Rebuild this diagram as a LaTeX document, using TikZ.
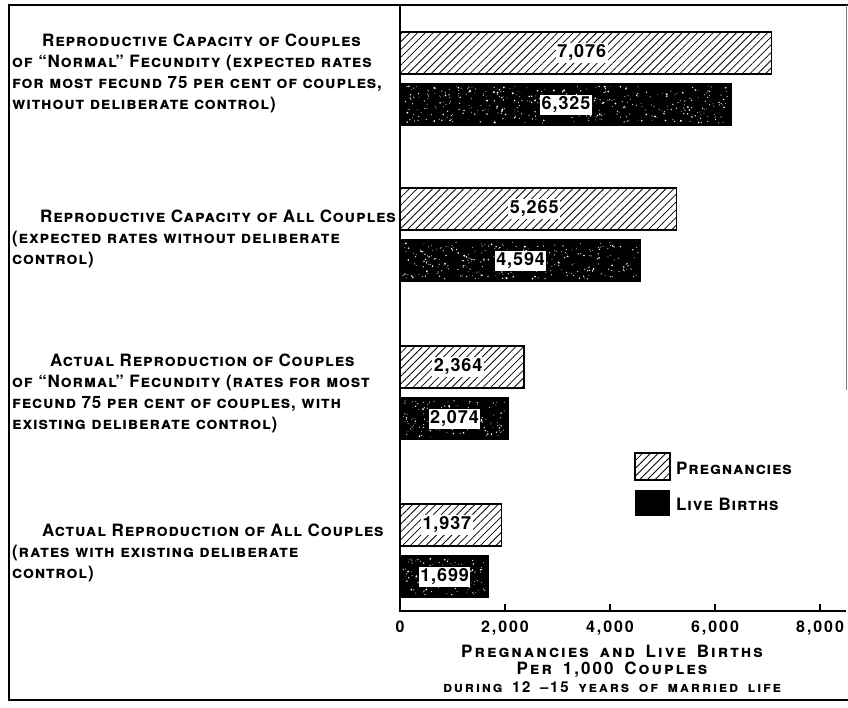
\documentclass[tikz,border=0pt]{standalone}
\usepackage{fontspec}
\setmainfont{TeX Gyre Heros}
\newfontfamily\lettering[LetterSpace=5, Ligatures=TeX]{TeX Gyre Heros}
\newfontfamily\widelettering[LetterSpace=12, Ligatures=TeX, WordSpace=1.6]{TeX Gyre Heros}
\usetikzlibrary{patterns.meta}

\tikzset{
  preg/.style={draw=black, line width=1.3pt, pattern={Lines[angle=45, distance=5.5pt, line width=0.8pt]}},
  live/.style={fill=black},
  rowlbl/.style={anchor=north west, align=left, inner sep=0pt, font=\lettering\bfseries\scshape\fontsize{17}{21}\selectfont},
  val/.style={inner sep=1.5pt, font=\lettering\bfseries\fontsize{18}{18}\selectfont},
  valbox/.style={val, fill=white},
  leg/.style={inner sep=0pt, font=\lettering\bfseries\scshape\fontsize{17}{17}\selectfont},
  axtitle/.style={inner sep=0pt, anchor=base, font=\widelettering\bfseries\scshape\fontsize{17}{17}\selectfont},
}

\begin{document}
\begin{tikzpicture}[x=1pt, y=-1pt]
    % 画布与边框
    \useasboundingbox (0,0) rectangle (848,707);
    \fill[white] (0,0) rectangle (848,707);
    \draw[line width=2.5pt] (848,5) -- (9,5) -- (9,700) -- (848,700);
    \draw[line width=0.6pt, gray] (846,5) -- (846,390);

    % 坐标轴
    \def\xo{400}
    \def\ya{611}
    \def\u{0.0525}
    \draw[line width=1.5pt] (\xo,5) -- (\xo,\ya) -- (846,\ya);
    \foreach \v/\t in {0/0, 2000/{2,000}, 4000/{4,000}, 6000/{6,000}, 8000/{8,000}} {
        \draw[line width=1.2pt] ({\xo+\v*\u},604) -- ({\xo+\v*\u},\ya);
        \node[val, font=\widelettering\bfseries\fontsize{16}{16}\selectfont, anchor=base] (tick\v) at ({\xo+\v*\u},632) {\t};
    }

    % 条形：妊娠与活产
    \pgfmathsetseed{11}
    \foreach \n/\t/\p/\l/\pa/\la in {a/32/7076/6325/{7,076}/{6,325},
                                      b/188/5265/4594/{5,265}/{4,594},
                                      c/346/2364/2074/{2,364}/{2,074},
                                      d/504/1937/1699/{1,937}/{1,699}} {
        \fill[white] (\xo,\t) rectangle ({\xo+\p*\u},\t+42);
        \draw[preg] (\xo,\t) rectangle ({\xo+\p*\u},\t+42);
        \fill[live] (\xo,\t+51) rectangle ({\xo+\l*\u},\t+94);
        % 白色斑点
        \pgfmathtruncatemacro\nd{\l*\u*1.2}
        \foreach \i in {1,...,\nd}
            \fill[white] ({\xo+3+rnd*(\l*\u-6)}, {\t+54+rnd*37}) circle ({0.4+0.8*rnd*rnd});
        \node[val, fill=white] (p\n) at ({\xo+\p*\u/2-4},\t+21) {\pa};
        \node[valbox] (l\n) at ({\xo+\l*\u/2},\t+73) {\la};
    }

    % 左侧说明文字
    \node[rowlbl] (capnormal) at (12,34) {\hspace*{30pt}Reproductive Capacity of Couples\\
        of “Normal” Fecundity (expected rates\\
        for most fecund 75 per cent of couples,\\
        without deliberate control)};
    \node[rowlbl] (capall) at (12,210) {\hspace*{28pt}Reproductive Capacity of All Couples\\
        (expected rates without deliberate\\
        control)};
    \node[rowlbl] (actnormal) at (12,354) {\hspace*{38pt}Actual Reproduction of Couples\\
        of “Normal” Fecundity (rates for most\\
        fecund 75 per cent of couples, with\\
        existing deliberate control)};
    \node[rowlbl] (actall) at (12,524) {\hspace*{30pt}Actual Reproduction of All Couples\\
        (rates with existing deliberate\\
        control)};

    % 图例
    \draw[preg] (635,453) rectangle (670,480);
    \node[leg, anchor=base west] (legp) at (676,474) {Pregnancies};
    \fill[live] (635,490) rectangle (670,516);
    \node[leg, anchor=base west] (legl) at (676,510) {Live Births};

    % 横轴标题
    \node[axtitle] (xtitle) at (612,657) {Pregnancies and Live Births};
    \node[axtitle] (xper) at (612,674) {Per 1,000 Couples};
    \node[axtitle, font=\widelettering\bfseries\scshape\fontsize{15}{15}\selectfont] (xyears) at (612,692) {during 12 –15 years of married life};
\end{tikzpicture}
\end{document}
